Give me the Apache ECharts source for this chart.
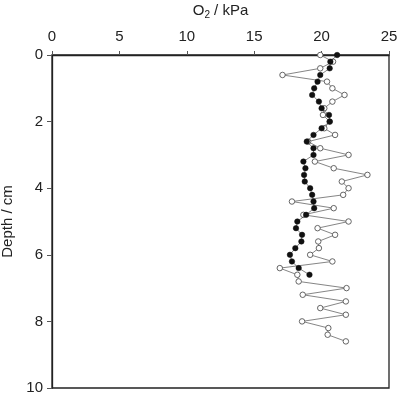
<!DOCTYPE html>
<html>
<head>
<meta charset="utf-8">
<script src="https://cdn.jsdelivr.net/npm/echarts@6/dist/echarts.min.js"></script>
<style>html,body{margin:0;padding:0;background:#fff}#c{width:397px;height:395px}</style>
</head>
<body>
<div id="c"></div>
<script>
// Open circles: O2 (kPa) at depths 0, 0.2, 0.4, ... cm
const openDepth = [0,0.2,0.4,0.6,0.8,1.0,1.2,1.4,1.6,1.8,2.0,2.2,2.4,2.6,2.8,3.0,3.2,3.4,3.6,3.8,4.0,4.2,4.4,4.6,4.8,5.0,5.2,5.4,5.6,5.8,6.0,6.2,6.4,6.6,6.8,7.0,7.2,7.4,7.6,7.8,8.0,8.2,8.4,8.6];
const openO2 = [19.9,20.85,19.9,17.1,20.4,20.8,21.7,20.8,20.2,20.1,20.6,20.2,21.0,19.0,19.9,22.0,19.5,20.9,23.4,21.5,22.0,21.6,17.8,20.9,18.65,22.0,19.7,21.0,19.75,19.8,19.15,20.8,16.9,18.2,18.3,21.85,18.6,21.8,19.9,21.8,18.55,20.5,20.45,21.8];
// Filled circles
const fillDepth = [0,0.2,0.4,0.6,0.8,1.0,1.2,1.4,1.6,1.8,2.0,2.2,2.4,2.6,2.8,3.0,3.2,3.4,3.6,3.8,4.0,4.2,4.4,4.6,4.8,5.0,5.2,5.4,5.6,5.8,6.0,6.2,6.4,6.6];
const fillO2 = [21.15,20.65,20.6,19.9,19.7,19.45,19.3,19.8,20.0,20.55,20.6,20.0,19.4,18.9,19.4,19.4,18.65,18.8,18.7,18.75,19.15,19.3,19.4,19.45,18.85,18.2,18.1,18.55,18.5,18.05,17.65,17.8,18.3,19.1];
const xTicks = [0,5,10,15,20,25];
const yTicks = [0,2,4,6,8,10];

const chart = echarts.init(document.getElementById('c'), null, {renderer:'canvas'});
const font = 'Liberation Sans, Arial, sans-serif';
chart.setOption({
  animation:false,
  backgroundColor:'#fff',
  grid:{left:52,right:8,top:55,bottom:7,containLabel:false,outerBoundsMode:'none',show:true,borderColor:'#222',borderWidth:1.3,backgroundColor:'transparent'},
  xAxis:{
    type:'value',position:'top',min:xTicks[0],max:xTicks[xTicks.length-1],interval:5,
    name:'O{sub|2} / kPa',nameLocation:'middle',nameGap:35,
    nameTextStyle:{color:'#222',fontSize:15,fontFamily:font,rich:{sub:{fontSize:10,color:'#222',fontFamily:font,verticalAlign:'bottom',padding:[8,0,0,0]}}},
    axisLine:{show:true,lineStyle:{color:'#222',width:1.3}},
    axisTick:{show:true,inside:false,length:4,lineStyle:{color:'#555',width:1}},
    axisLabel:{color:'#222',fontSize:15,fontFamily:font,margin:11},
    splitLine:{show:false}
  },
  yAxis:{
    type:'value',inverse:true,min:yTicks[0],max:yTicks[yTicks.length-1],interval:2,
    name:'Depth / cm',nameLocation:'middle',nameGap:34,nameRotate:90,
    nameTextStyle:{color:'#222',fontSize:15,fontFamily:font},
    axisLine:{show:true,lineStyle:{color:'#222',width:1.3}},
    axisTick:{show:true,inside:false,length:5,lineStyle:{color:'#555',width:1}},
    axisLabel:{color:'#222',fontSize:15,fontFamily:font,margin:9},
    splitLine:{show:false}
  },
  series:[
    {
      type:'line',
      data:openO2.map((v,i)=>[v,openDepth[i]]),
      symbol:'circle',symbolSize:5.5,showSymbol:true,
      lineStyle:{color:'#666',width:0.8},
      itemStyle:{color:'#fff',borderColor:'#555',borderWidth:0.9},
      z:2
    },
    {
      type:'line',
      data:fillO2.map((v,i)=>[v,fillDepth[i]]),
      symbol:'circle',symbolSize:5.5,showSymbol:true,
      lineStyle:{color:'#333',width:0.6},
      itemStyle:{color:'#111',borderColor:'#111',borderWidth:0.5},
      z:3
    }
  ]
});
</script>
</body>
</html>
